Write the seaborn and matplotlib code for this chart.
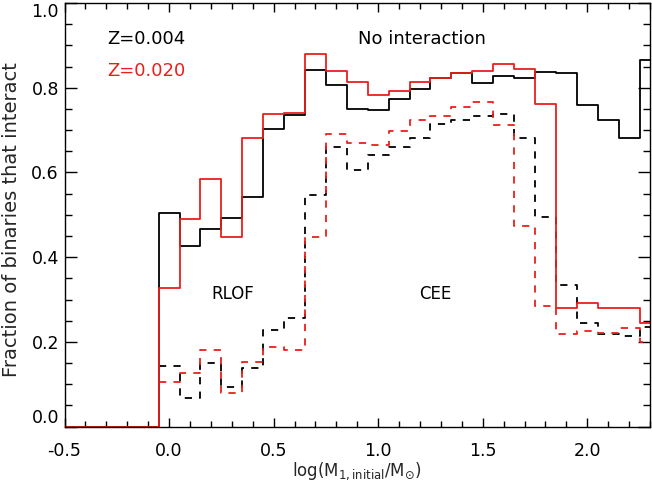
import numpy as np
import pandas as pd
import matplotlib
matplotlib.use("Agg")
import matplotlib.pyplot as plt
from matplotlib.ticker import MultipleLocator, FormatStrFormatter
import seaborn as sns

# bin centres in log(M1/Msun), width 0.1
centers = [0.0, 0.1, 0.2, 0.3, 0.4, 0.5, 0.6, 0.7, 0.8, 0.9, 1.0, 1.1,
           1.2, 1.3, 1.4, 1.5, 1.6, 1.7, 1.8, 1.9, 2.0, 2.1, 2.2, 2.3]

# total interacting fraction (solid)
z004_all = [0.505, 0.426, 0.467, 0.492, 0.541, 0.702, 0.736, 0.843, 0.806, 0.750, 0.747, 0.773,
            0.797, 0.822, 0.834, 0.810, 0.828, 0.822, 0.836, 0.834, 0.759, 0.724, 0.681, 0.865]
z020_all = [0.327, 0.489, 0.584, 0.447, 0.681, 0.737, 0.741, 0.880, 0.840, 0.813, 0.784, 0.793,
            0.813, 0.824, 0.834, 0.840, 0.855, 0.844, 0.762, 0.281, 0.291, 0.281, 0.281, 0.245]

# CEE fraction (dashed)
z004_cee = [0.144, 0.067, 0.150, 0.094, 0.139, 0.228, 0.257, 0.548, 0.661, 0.606, 0.642, 0.661,
            0.682, 0.714, 0.725, 0.733, 0.738, 0.681, 0.494, 0.335, 0.245, 0.219, 0.213, 0.235]
z020_cee = [0.106, 0.127, 0.181, 0.080, 0.153, 0.187, 0.181, 0.447, 0.691, 0.669, 0.665, 0.697,
            0.725, 0.733, 0.754, 0.767, 0.712, 0.474, 0.284, 0.219, 0.227, 0.222, 0.232, 0.200]

df = pd.DataFrame({"logm": centers, "z004_all": z004_all, "z020_all": z020_all,
                   "z004_cee": z004_cee, "z020_cee": z020_cee})

edges = [round(-0.05 + 0.1 * i, 2) for i in range(len(centers) + 1)]
edges_full = [-0.5] + edges

sns.set_style("ticks")
plt.rcParams['font.family'] = ['DejaVu Sans']
plt.rcParams['mathtext.fontset'] = 'dejavusans'

fig = plt.figure(figsize=(6.52, 4.83), dpi=100)
ax = fig.add_axes([0.099, 0.1166, 0.898, 0.8772])

red = "#e8201c"
lw = 1.3
sns.histplot(data=df, x="logm", weights="z004_all", bins=edges_full, element="step",
             fill=False, color="black", linewidth=lw, ax=ax)
sns.histplot(data=df, x="logm", weights="z004_cee", bins=edges, element="step",
             fill=False, color="black", linewidth=lw, linestyle=(0, (4, 4)), ax=ax)
sns.histplot(data=df, x="logm", weights="z020_cee", bins=edges, element="step",
             fill=False, color=red, linewidth=lw, linestyle=(0, (4, 4)), ax=ax)
sns.histplot(data=df, x="logm", weights="z020_all", bins=edges_full, element="step",
             fill=False, color=red, linewidth=lw, ax=ax)

ax.set_xlim(-0.5, 2.3)
ax.set_ylim(0, 1.0)
ax.xaxis.set_major_locator(MultipleLocator(0.5))
ax.xaxis.set_minor_locator(MultipleLocator(0.1))
ax.yaxis.set_major_locator(MultipleLocator(0.2))
ax.yaxis.set_minor_locator(MultipleLocator(0.05))
ax.xaxis.set_major_formatter(FormatStrFormatter('%.1f'))
ax.yaxis.set_major_formatter(FormatStrFormatter('%.1f'))

for side in ax.spines.values():
    side.set_visible(True)
    side.set_linewidth(1.0)
    side.set_color("black")

ax.tick_params(axis="both", which="both", direction="in", top=True, right=True,
               colors="black", width=1.0, labelsize=12.5)
ax.tick_params(axis="x", which="major", length=6.7, pad=11)
ax.tick_params(axis="x", which="minor", length=4)
ax.tick_params(axis="y", which="major", length=8.6, pad=4)
ax.tick_params(axis="y", which="minor", length=5)

ax.set_xlabel(r'log(M$_{\mathregular{1,initial}}$/M$_{\odot}$)', fontsize=12)
ax.set_ylabel('Fraction of binaries that interact', fontsize=14)
ax.xaxis.set_label_coords(0.5, -0.08)
ax.yaxis.set_label_coords(-0.075, 0.488)

ax.text(-0.298, 0.916, "Z=0.004", color="black", fontsize=13, ha="left", va="center")
ax.text(-0.298, 0.839, "Z=0.020", color=red, fontsize=13, ha="left", va="center")
ax.text(0.902, 0.915, "No interaction", color="black", fontsize=13, ha="left", va="center")
ax.text(0.203, 0.314, "RLOF", color="black", fontsize=12, ha="left", va="center")
ax.text(1.198, 0.313, "CEE", color="black", fontsize=12, ha="left", va="center")

# keep the end labels of the y axis inside the frame
fig.canvas.draw()
for tick in ax.yaxis.get_major_ticks():
    loc = tick.get_loc()
    if abs(loc - 1.0) < 1e-6:
        tick.label1.set_va("top")
    elif abs(loc) < 1e-6:
        tick.label1.set_va("bottom")

fig.savefig("out.png", dpi=100)
